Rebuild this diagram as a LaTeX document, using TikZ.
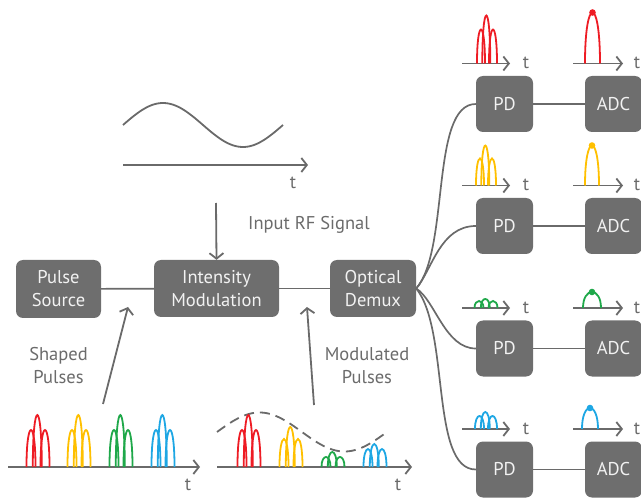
\documentclass[tikz,border=0pt]{standalone}
\usepackage{fontspec}
\setmainfont{PT Sans}
\usetikzlibrary{arrows.meta}

\definecolor{boxgray}{HTML}{6E6E6E}
\definecolor{linegray}{HTML}{6A6A6A}
\definecolor{txtgray}{HTML}{6B6B6B}
\definecolor{boxtxt}{HTML}{F2F2F2}
\definecolor{pred}{HTML}{EE1C24}
\definecolor{pyellow}{HTML}{FFC000}
\definecolor{pgreen}{HTML}{1FA84A}
\definecolor{pblue}{HTML}{1EA7E4}

% one arch: centre x, base y, half width, height
\newcommand\pulsearch[4]{%
  \draw (#1-#3,#2) .. controls (#1-#3,#2-1.333*#4) and (#1+#3,#2-1.333*#4) .. (#1+#3,#2);}
% three overlapping arches: colour, centre x, base y, offset, half width, side height, middle height
\newcommand\tripulse[7]{%
  \begin{scope}[pulse,#1]
    \pulsearch{#2-#4}{#3}{#5}{#6}
    \pulsearch{#2+#4}{#3}{#5}{#6}
    \pulsearch{#2}{#3}{#5-0.7}{#7}
  \end{scope}}
% single sampled arch with a dot on top: colour, centre x, base y, half width, height
\newcommand\sampled[5]{%
  \begin{scope}[pulse,#1]
    \pulsearch{#2}{#3}{#4}{#5}
    \fill (#2,#3-#5) circle (3.3pt);
  \end{scope}}

\tikzset{
  box/.style={fill=boxgray, rounded corners=7pt, text=boxtxt, align=center,
    inner sep=0pt, font=\fontsize{18.5}{23}\selectfont},
  label/.style={text=txtgray, align=center, inner sep=0pt, font=\fontsize{18.5}{23}\selectfont},
  wire/.style={draw=linegray, line width=1.7pt},
  axis/.style={draw=linegray, line width=1.8pt, -{Straight Barb[length=5.5pt,width=14pt]}},
  pointer/.style={draw=linegray, line width=1.8pt, -{Straight Barb[length=5.5pt,width=14pt]}},
  pulse/.style={line width=1.8pt},
  envelope/.style={draw=linegray, line width=1.8pt, dash pattern=on 10pt off 6pt},
}

\begin{document}
\begin{tikzpicture}[x=1pt,y=-1pt]
\useasboundingbox (0,0) rectangle (641,500);

% main chain
\node[box, minimum width=85pt, minimum height=58pt] (src) at (58.5,289) {Pulse\\Source};
\node[box, minimum width=125pt, minimum height=57pt] (mod) at (216.5,288.5) {Intensity\\Modulation};
\node[box, minimum width=86pt, minimum height=57pt] (demux) at (373,288.5) {Optical\\Demux};
\draw[wire] (src) -- (mod);
\draw[wire] (mod) -- (demux);

% RF input signal
\draw[linegray, line width=1.8pt] plot[domain=123:283, samples=90, smooth] (\x,{125-22*sin((\x-123)*2.25)});
\coordinate (rfstart) at (123,165);
\coordinate (rfend) at (308,165);
\draw[axis] (rfstart) -- (rfend);
\node[label] (rft) at (293,183) {t};
\coordinate (rfarrow) at (216,203);
\draw[pointer] (rfarrow) -- (mod.north);
\node[label, anchor=west] (rflabel) at (248,225) {Input RF Signal};

% shaped pulses
\coordinate (shA) at (8,467);
\coordinate (shB) at (200,467);
\draw[axis] (shA) -- (shB);
\node[label] (sht) at (188,485) {t};
\tripulse{pred}{38}{467}{7}{4.5}{37}{52}
\tripulse{pyellow}{79}{467}{7}{4.5}{37}{52}
\tripulse{pgreen}{121}{467}{7}{4.5}{37}{52}
\tripulse{pblue}{163}{467}{7}{4.5}{37}{52}
\node[label] (shlabel) at (58.5,366) {Shaped\\Pulses};
\coordinate (shtail) at (103,404);
\coordinate (shhead) at (128,307);
\draw[pointer] (shtail) -- (shhead);

% modulated pulses
\coordinate (mdA) at (217,467);
\coordinate (mdB) at (412,467);
\draw[axis] (mdA) -- (mdB);
\node[label] (mdt) at (398,485) {t};
\draw[envelope] plot[domain=0:170, samples=90, smooth] (217+\x,{432-19.5*sin(\x*2.1176)});
\tripulse{pred}{249}{467}{7}{4.5}{37}{52}
\tripulse{pyellow}{291}{467}{7}{4.5}{28}{40}
\tripulse{pgreen}{333}{467}{7}{4.5}{10}{15}
\tripulse{pblue}{375}{467}{7}{4.5}{18}{23}
\node[label] (mdlabel) at (367,366) {Modulated\\Pulses};
\coordinate (mdtail) at (314,405);
\coordinate (mdhead) at (307,307);
\draw[pointer] (mdtail) -- (mdhead);

% detection channels
\foreach \i/\y in {1/104,2/226,3/348.5,4/469.5}{
  \node[box, minimum width=57pt, minimum height=56pt] (pd\i) at (504.5,\y) {PD};
  \node[box, minimum width=57pt, minimum height=56pt] (adc\i) at (613.5,\y) {ADC};
  \draw[wire] (pd\i) -- (adc\i);
  \draw[axis] (462,\y-40.5) -- (510,\y-40.5);
  \node[label] (pdt\i) at (526,\y-41) {t};
  \draw[axis] (573,\y-40.5) -- (623,\y-40.5);
  \node[label] (adct\i) at (637,\y-41) {t};
}

% demultiplexer outputs
\draw[wire] (demux.east) .. controls (450,250) and (430,104) .. (pd1.west);
\draw[wire] (demux.east) .. controls (432,270) and (440,226) .. (pd2.west);
\draw[wire] (demux.east) .. controls (435,300) and (445,348.5) .. (pd3.west);
\draw[wire] (demux.east) .. controls (450,330) and (430,469.5) .. (pd4.west);

% pulses per channel
\tripulse{pred}{487}{63.5}{6}{4}{34}{48}
\sampled{pred}{592.5}{63.5}{7.5}{51}
\tripulse{pyellow}{486}{185.5}{6}{4}{27}{40}
\sampled{pyellow}{592}{185.5}{7}{40}
\tripulse{pgreen}{486}{308}{7}{4.5}{7}{9}
\sampled{pgreen}{592}{308}{9}{16}
\tripulse{pblue}{486}{429}{6.5}{4.5}{13}{17}
\sampled{pblue}{590}{429}{8}{21}

\end{tikzpicture}
\end{document}
